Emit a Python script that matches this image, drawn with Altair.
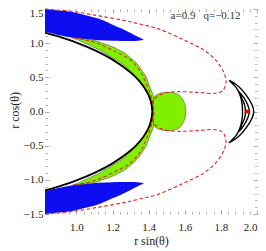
import altair as alt
import pandas as pd

FONT = "Liberation Serif"
X_DOMAIN = [0.826, 2.0]
Y_DOMAIN = [-1.5, 1.5]
X_TICKS = [1.0, 1.2, 1.4, 1.6, 1.8, 2.0]
Y_TICKS = [-1.5, -1.0, -0.5, 0.0, 0.5, 1.0, 1.5]
X_MINOR = [round(0.84 + 0.04 * i, 2) for i in range(30)]
Y_MINOR = [round(-1.5 + 0.1 * i, 1) for i in range(31)]

# horizon (black solid)
hor_x = [0.826, 0.9, 1.0, 1.1, 1.2, 1.3, 1.35, 1.39, 1.41, 1.42, 1.41, 1.39, 1.35, 1.3, 1.2, 1.1, 1.0, 0.9, 0.826]
hor_y = [1.155, 1.098, 1.008, 0.898, 0.759, 0.571, 0.44, 0.29, 0.168, 0.0, -0.168, -0.29, -0.44, -0.571, -0.759, -0.898, -1.008, -1.098, -1.155]

# blue regions (x, upper, lower)
blue_x = [0.826, 0.9, 0.978, 1.05, 1.125, 1.2, 1.25, 1.3, 1.34, 1.36, 1.372]
blue_top_hi = [1.5, 1.479, 1.457, 1.408, 1.356, 1.27, 1.213, 1.147, 1.093, 1.07, 1.056]
blue_top_lo = [1.166, 1.12, 1.079, 1.058, 1.042, 1.035, 1.032, 1.031, 1.036, 1.042, 1.052]
blue_bot_hi = [-1.166, -1.12, -1.079, -1.058, -1.042, -1.035, -1.032, -1.031, -1.036, -1.042, -1.052]
blue_bot_lo = [-1.5, -1.479, -1.457, -1.408, -1.356, -1.27, -1.213, -1.147, -1.093, -1.07, -1.056]

# green band (y, inner x, outer x)
band_y = [1.077, 1.065, 1.05, 1.0, 0.95, 0.9, 0.85, 0.8, 0.7, 0.6, 0.5, 0.4, 0.3, 0.2, 0.1, 0.0,
          -0.1, -0.2, -0.3, -0.4, -0.5, -0.6, -0.7, -0.8, -0.85, -0.9, -0.95, -1.0, -1.05, -1.065, -1.077]
band_in = [0.978, 0.991, 1.006, 1.048, 1.088, 1.128, 1.161, 1.191, 1.252, 1.296, 1.332, 1.364, 1.384, 1.404, 1.415, 1.421,
           1.415, 1.404, 1.384, 1.364, 1.332, 1.296, 1.252, 1.191, 1.161, 1.128, 1.088, 1.048, 1.006, 0.991, 0.978]
band_out = [0.978, 1.029, 1.078, 1.143, 1.197, 1.235, 1.272, 1.293, 1.336, 1.363, 1.387, 1.401, 1.416, 1.428, 1.429, 1.424,
            1.429, 1.428, 1.416, 1.401, 1.387, 1.363, 1.336, 1.293, 1.272, 1.235, 1.197, 1.143, 1.078, 1.029, 0.978]

# green disk (y, left x, right x)
disk_y = [0.28, 0.265, 0.24, 0.2, 0.15, 0.1, 0.05, 0.0, -0.05, -0.1, -0.15, -0.2, -0.24, -0.265, -0.28]
disk_l = [1.49, 1.462, 1.442, 1.43, 1.425, 1.424, 1.424, 1.424, 1.424, 1.424, 1.425, 1.43, 1.442, 1.462, 1.49]
disk_r = [1.53, 1.553, 1.568, 1.582, 1.594, 1.601, 1.605, 1.606, 1.605, 1.601, 1.594, 1.582, 1.568, 1.553, 1.53]

# red dashed outer boundary
ro_x = [0.826, 0.978, 1.125, 1.261, 1.342, 1.451, 1.596, 1.705, 1.777, 1.817, 1.828, 1.81, 1.768, 1.668, 1.56, 1.488, 1.442, 1.424, 1.421,
        1.424, 1.442, 1.488, 1.56, 1.668, 1.768, 1.81, 1.828, 1.817, 1.777, 1.705, 1.596, 1.451, 1.342, 1.261, 1.125, 0.978, 0.826]
ro_y = [1.5, 1.464, 1.399, 1.334, 1.285, 1.213, 1.045, 0.901, 0.735, 0.567, 0.423, 0.304, 0.266, 0.28, 0.29, 0.27, 0.208, 0.136, 0.0,
        -0.136, -0.208, -0.27, -0.29, -0.28, -0.266, -0.304, -0.423, -0.567, -0.735, -0.901, -1.045, -1.213, -1.285, -1.334, -1.399, -1.464, -1.5]

# red dashed inner curve
ri_x = [0.985, 1.089, 1.197, 1.299, 1.352, 1.388, 1.415, 1.429, 1.431, 1.429, 1.415, 1.388, 1.352, 1.299, 1.197, 1.089, 0.985]
ri_y = [1.077, 1.022, 0.901, 0.754, 0.591, 0.399, 0.208, 0.04, 0.0, -0.04, -0.208, -0.399, -0.591, -0.754, -0.901, -1.022, -1.077]

# crescent contours
c1_x = [1.846, 1.895, 1.94, 1.973, 1.982, 1.973, 1.94, 1.895, 1.846, 1.852, 1.885, 1.905, 1.917, 1.92, 1.917, 1.905, 1.885, 1.852, 1.846]
c1_y = [0.455, 0.373, 0.24, 0.096, 0.0, -0.096, -0.24, -0.373, -0.455, -0.44, -0.35, -0.25, -0.12, 0.0, 0.12, 0.25, 0.35, 0.44, 0.455]
c2_x = [1.9, 1.928, 1.948, 1.958, 1.948, 1.928, 1.9, 1.918, 1.932, 1.936, 1.932, 1.918, 1.9]
c2_y = [0.29, 0.2, 0.1, 0.0, -0.1, -0.2, -0.29, -0.18, -0.09, 0.0, 0.09, 0.18, 0.29]
dot_x = [1.946]
dot_y = [0.0]

label_a = "a=0.9"
label_q = "q=\u22120.12"

xs = alt.Scale(domain=X_DOMAIN, nice=False, zero=False)
ys = alt.Scale(domain=Y_DOMAIN, nice=False, zero=False)


def line_df(x, y, g):
    return pd.DataFrame({"x": x, "y": y, "i": list(range(len(x))), "g": g})


LBL = dict(labelFont=FONT, labelFontSize=11, labelColor="#222")
TTL = dict(titleFont=FONT, titleFontSize=12, titleFontWeight="normal", titleColor="#222")

main_x_axis = alt.Axis(orient="bottom", values=X_TICKS, format=".1f", title="r sin(\u03b8)", ticks=False, tickSize=0, domain=False,
                       grid=False, labelPadding=7, labelFlush=True, titleY=30, titleBaseline="alphabetic", **LBL, **TTL)
main_y_axis = alt.Axis(orient="left", values=Y_TICKS[:-1], format=".1f", title="r cos(\u03b8)", ticks=False, tickSize=0,
                       domain=False, grid=False, labelPadding=2, labelFlush=False, titleX=-27, titleY=101, titleAngle=270,
                       titleBaseline="alphabetic", **LBL, **TTL)
top_y_axis = alt.Axis(orient="left", values=Y_TICKS[-1:], format=".1f", title=None, ticks=False, tickSize=0, domain=False,
                      grid=False, labelPadding=2, labelFlush=False, labelOffset=4, **LBL)

blue_top = alt.Chart(pd.DataFrame({"x": blue_x, "hi": blue_top_hi, "lo": blue_top_lo})).mark_area(
    color="#0d0df2", interpolate="monotone").encode(
    x=alt.X("x:Q", scale=xs, axis=main_x_axis),
    y=alt.Y("hi:Q", scale=ys, axis=main_y_axis),
    y2="lo:Q")
blue_bot = alt.Chart(pd.DataFrame({"x": blue_x, "hi": blue_bot_hi, "lo": blue_bot_lo})).mark_area(
    color="#0d0df2", interpolate="monotone").encode(
    x=alt.X("x:Q", scale=xs, axis=None),
    y=alt.Y("hi:Q", scale=ys, axis=top_y_axis),
    y2="lo:Q")
band = alt.Chart(pd.DataFrame({"y": band_y, "a": band_in, "b": band_out})).mark_area(
    fill="#80f000", stroke="#505050", strokeWidth=0.6, orient="horizontal", interpolate="monotone").encode(
    y=alt.Y("y:Q", scale=ys, axis=None),
    x=alt.X("a:Q", scale=xs, axis=None),
    x2="b:Q")
disk = alt.Chart(pd.DataFrame({"y": disk_y, "a": disk_l, "b": disk_r})).mark_area(
    fill="#80f000", stroke="#505050", strokeWidth=0.6, orient="horizontal", interpolate="monotone").encode(
    y=alt.Y("y:Q", scale=ys, axis=None),
    x=alt.X("a:Q", scale=xs, axis=None),
    x2="b:Q")


def lines(df, color, width, dash=None):
    kw = dict(color=color, strokeWidth=width, interpolate="catmull-rom")
    if dash:
        kw["strokeDash"] = dash
    return alt.Chart(df).mark_line(**kw).encode(
        x=alt.X("x:Q", scale=xs, axis=None),
        y=alt.Y("y:Q", scale=ys, axis=None),
        order="i:Q", detail="g:N")


horizon = lines(line_df(hor_x, hor_y, "h"), "#000000", 1.8)
red_out = lines(line_df(ro_x, ro_y, "ro"), "#ee1c1c", 1.1, [3.5, 2.5])
red_in = lines(line_df(ri_x, ri_y, "ri"), "#ee1c1c", 1.1, [3.5, 2.5])
cres = lines(pd.concat([line_df(c1_x, c1_y, "c1"), line_df(c2_x, c2_y, "c2")]), "#000000", 1.4)
dot = alt.Chart(pd.DataFrame({"x": dot_x, "y": dot_y})).mark_square(color="#ff0000", size=14, opacity=1).encode(
    x=alt.X("x:Q", scale=xs, axis=None), y=alt.Y("y:Q", scale=ys, axis=None))


def text_layer(label, px):
    return alt.Chart(pd.DataFrame({"t": [label]})).mark_text(
        font=FONT, fontSize=11, color="#333", baseline="alphabetic", align="center").encode(
        x=alt.value(px), y=alt.value(9.5), text="t:N")


txt_a = text_layer(label_a, 138)
txt_q = text_layer(label_q, 177)


def tick_layer(orient_x, orient_y, size, values_x, values_y):
    ax = alt.Axis(orient=orient_x, offset=-size, tickSize=size, values=values_x, labels=False, domain=False, grid=False,
                  tickColor="#a0a0a0", tickWidth=0.8, title=None)
    ay = alt.Axis(orient=orient_y, offset=-size, tickSize=size, values=values_y, labels=False, domain=False, grid=False,
                  tickColor="#a0a0a0", tickWidth=0.8, title=None)
    return alt.Chart(pd.DataFrame({"x": dot_x, "y": dot_y})).mark_point(opacity=0).encode(
        x=alt.X("x:Q", scale=xs, axis=ax), y=alt.Y("y:Q", scale=ys, axis=ay))


t1 = tick_layer("bottom", "left", 4, X_TICKS, Y_TICKS)
t2 = tick_layer("bottom", "left", 2.5, X_MINOR, Y_MINOR)
t3 = tick_layer("top", "right", 4, X_TICKS, Y_TICKS)
t4 = tick_layer("top", "right", 2.5, X_MINOR, Y_MINOR)

chart = alt.layer(blue_top, blue_bot, band, disk, red_in, red_out, horizon, cres, dot, txt_a, txt_q, t1, t2, t3, t4).resolve_axis(
    x="independent", y="independent").properties(
    width=212, height=205,
    padding={"left": 37, "top": 1, "right": 1, "bottom": 36},
    autosize=alt.AutoSizeParams(type="none")).configure_view(strokeWidth=0)

chart.save("out.html", embed_options={"renderer": "svg", "actions": False})
